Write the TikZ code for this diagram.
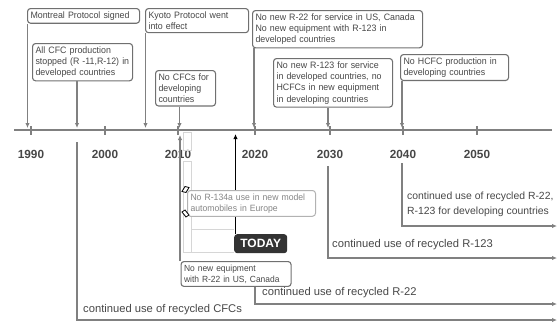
\documentclass[tikz,border=0pt]{standalone}
\usepackage{fontspec}
\setmainfont{Liberation Sans}
\newfontfamily\boxfam{Liberation Sans}[FakeStretch=0.95]
\usetikzlibrary{arrows.meta}
\newcommand{\boxfont}{\boxfam\fontsize{9.3}{11.3}\selectfont}
\newcommand{\contfont}{\fontsize{11.2}{15}\selectfont}
\definecolor{linegray}{HTML}{808080}
\definecolor{boxgray}{HTML}{707070}
\definecolor{txtgray}{HTML}{474747}
\definecolor{fadegray}{HTML}{D6D6D6}
\tikzset{
    node style ev/.style={draw=boxgray,line width=1.1pt,rounded corners=3pt,anchor=north west,
        align=left,inner xsep=3pt,inner ysep=3pt,text=txtgray,font=\boxfont},
    node style yr/.style={text=txtgray,font=\fontsize{11.8}{12}\selectfont\bfseries},
    node style cu/.style={anchor=west,align=left,inner sep=0pt,text=txtgray,font=\contfont},
    line style ev/.style={draw=linegray,line width=1.5pt},
}

\begin{document}
\begin{tikzpicture}[x=1pt,y=-1pt,>={Latex[length=5pt,width=4.5pt]}]
\useasboundingbox (0,0) rectangle (558,322);
\clip (0,0) rectangle (558,322);

% time axis
\coordinate (axL) at (14,130);
\coordinate (axR) at (552,130);
\draw [line style ev,line width=2.4pt] (axL) -- (axR);
\foreach \yr/\x in {1990/31,2000/105,2010/178,2020/255,2030/330,2040/403,2050/477}{
  \draw [line style ev,line width=1.2pt] (\x,126) -- (\x,134.5);
  \node [node style yr] (y\yr) at (\x,154) {\yr};
}

% events above the axis
\node [node style ev,text width=106pt] (mont) at (27,8) {Montreal Protocol signed};
\node [node style ev,text width=94pt] (cfc) at (32,43) {All CFC production\\stopped (R -11,R-12) in\\developed countries};
\node [node style ev,text width=97pt] (kyoto) at (145,8) {Kyoto Protocol went\\into effect};
\node [node style ev,text width=54pt] (nocfc) at (155,70) {No CFCs for\\developing\\countries};
\node [node style ev,text width=164pt] (r22) at (252,10) {No new R-22 for service in US, Canada\\No new equipment with R-123 in\\developed countries};
\node [node style ev,text width=113pt] (r123) at (273,58) {No new R-123 for service\\in developed countries, no\\HCFCs in new equipment\\in developing countries};
\node [node style ev,text width=102pt] (hcfc) at (400,54) {No HCFC production in\\developing countries};

\coordinate (t87) at (27.5,128);
\coordinate (t96) at (77,128);
\coordinate (t05) at (145.5,128);
\coordinate (t10) at (179.5,128);
\coordinate (t20) at (254,128);
\coordinate (t30) at (328,128);
\coordinate (t40) at (402,128);
\draw [line style ev,->] (mont.south -| t87) -- (t87);
\draw [line style ev,->] (cfc.south -| t96) -- (t96);
\draw [line style ev,->] (kyoto.south -| t05) -- (t05);
\draw [line style ev,->] (nocfc.south -| t10) -- (t10);
\draw [line style ev,->] (r22.south -| t20) -- (t20);
\draw [line style ev,->] (r123.south -| t30) -- (t30);
\draw [line style ev,->] (hcfc.south -| t40) -- (t40);

% continued use below the axis
\coordinate (c96) at (77,142);
\coordinate (c96e) at (557,320);
\draw [line style ev,->] (c96) |- (c96e);
\node [node style cu] (cfcu) at (83,310) {continued use of recycled CFCs};

\coordinate (c30) at (328,166);
\coordinate (c30e) at (557,258);
\draw [line style ev,->] (c30) |- (c30e);
\node [node style cu] (r123u) at (332,245) {continued use of recycled R-123};

\coordinate (c40) at (402,163);
\coordinate (c40e) at (557,226);
\draw [line style ev,->] (c40) |- (c40e);
\node [node style cu,font=\fontsize{10.4}{15}\selectfont] (devu) at (407,204.5) {continued use of recycled R-22,\\R-123 for developing countries};

% faint leftovers near 2010
\draw [fadegray,line width=0.8pt] (183,132) rectangle (191,150);
\draw [fadegray,line width=0.8pt] (183,161) rectangle (191,252);
\draw [fadegray,line width=0.8pt] (191,229) -- (234,229);
\draw [fadegray,line width=0.8pt] (191,252) -- (234,252);

% today
\node [anchor=north west,fill=black!80,rounded corners=3pt,minimum width=53pt,minimum height=19pt,
       inner sep=0pt,text=white,font=\fontsize{12}{12}\selectfont\bfseries] (today) at (234,234) {TODAY};
\coordinate (now) at (235.5,134);
\draw [line width=1.7pt,->] (today.north -| now) -- (now);

\node [node style ev,draw=gray!60,text=gray!95,line width=1pt,fill=white,text width=122pt,
       font=\boxfam\fontsize{9.1}{11.3}\selectfont] (r134) at (187,190) {No R-134a use in new model\\automobiles in Europe};
\draw [fill=white,line width=0.8pt] (182,191.5) -- (185,186.5) -- (189,187.5) -- (186,192.5) -- cycle;
\draw [fill=white,line width=0.8pt] (182,212) -- (185,210) -- (189,215) -- (186,217) -- cycle;

% no new R-22 equipment
\node [node style ev,text width=104pt,font=\boxfam\fontsize{8.9}{11.3}\selectfont] (nr22) at (180.5,261) {No new equipment\\with R-22 in US, Canada};
\coordinate (u10) at (180,135);
\draw [line style ev,->] (nr22.north -| u10) -- (u10);
\coordinate (c22) at (255,304);
\coordinate (c22e) at (557,304);
\draw [line style ev,->] (nr22.south -| c22) |- (c22e);
\node [node style cu] (r22u) at (262,293) {continued use of recycled R-22};

\end{tikzpicture}
\end{document}
